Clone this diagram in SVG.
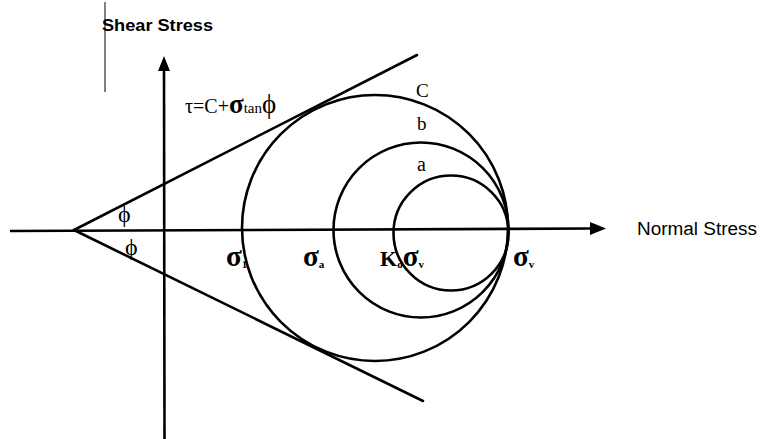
<svg xmlns="http://www.w3.org/2000/svg" width="775" height="439" viewBox="0 0 775 439">
<style>
.ln{stroke:#000;stroke-width:2.6;fill:none;stroke-linecap:round}
.ax{stroke:#000;stroke-width:2.6;fill:none}
.sans{font-family:"Liberation Sans",Arial,sans-serif;fill:#000}
.ser{font-family:"Liberation Serif","Times New Roman",serif;fill:#000}
.lbl{font-family:"Liberation Serif","Times New Roman",serif;font-weight:bold;font-size:29px;fill:#000}
.sub{font-size:11px}
</style>
<rect width="775" height="439" fill="#fff"/>
<g id="axes">
<line class="ax" x1="10" y1="231" x2="592" y2="228.5"/>
<polygon points="590,222 606,228.5 590,235" fill="#000"/>
<line class="ax" x1="164.5" y1="439" x2="164" y2="68"/>
<polygon points="158,71 164,56 170,71" fill="#000"/>
<line x1="105" y1="2" x2="105" y2="92" stroke="#000" stroke-width="1"/>
</g>
<g id="envelope">
<line class="ln" x1="74" y1="230" x2="417" y2="55"/>
<line class="ln" x1="74" y1="230" x2="423" y2="401"/>
</g>
<g id="circles">
<circle class="ln" cx="375" cy="228" r="133"/>
<circle class="ln" cx="421" cy="230" r="87.5"/>
<circle class="ln" cx="451" cy="233" r="57.5"/>
</g>
<g id="labels">
<text class="sans" x="102" y="31" font-size="17" font-weight="bold" textLength="111" lengthAdjust="spacingAndGlyphs">Shear Stress</text>
<text class="sans" x="637" y="235" font-size="18" textLength="120" lengthAdjust="spacingAndGlyphs">Normal Stress</text>
<text class="ser" x="185" y="113" font-size="20">τ=C+<tspan font-size="27" font-weight="bold">σ</tspan><tspan font-size="15">tan</tspan><tspan font-size="27">ϕ</tspan></text>
<text class="ser" x="416" y="97" font-size="19">C</text>
<text class="ser" x="417" y="130" font-size="19">b</text>
<text class="ser" x="417" y="171" font-size="20">a</text>
<text class="ser" x="118" y="222" font-size="24">ϕ</text>
<text class="ser" x="125" y="255" font-size="24">ϕ</text>
<text class="lbl" x="226" y="266">σ<tspan class="sub" dy="2">1</tspan></text>
<text class="lbl" x="303" y="266">σ<tspan class="sub" dy="2">a</tspan></text>
<text class="lbl" x="380" y="266"><tspan font-size="22">K</tspan><tspan class="sub" dy="2">o</tspan><tspan dy="-2">σ</tspan><tspan class="sub" dy="2">v</tspan></text>
<text class="lbl" x="513" y="266">σ<tspan class="sub" dy="2">v</tspan></text>
</g>
</svg>
